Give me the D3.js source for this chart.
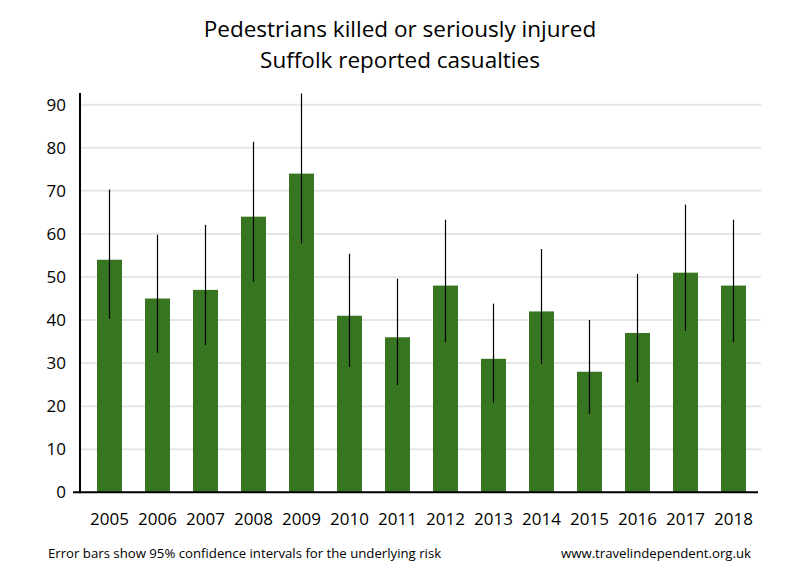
<!DOCTYPE html>
<html>
<head>
<meta charset="utf-8">
<script src="https://cdn.jsdelivr.net/npm/d3@7"></script>
<style>
  html, body { margin: 0; padding: 0; background: #fff; }
  svg { display: block; font-family: "Open Sans", sans-serif; }
</style>
</head>
<body>
<svg id="chart" width="800" height="580"></svg>
<script>
// ---- data ----
const years = ["2005","2006","2007","2008","2009","2010","2011","2012","2013","2014","2015","2016","2017","2018"];
const casualties = [54, 45, 47, 64, 74, 41, 36, 48, 31, 42, 28, 37, 51, 48];
const ciLower = [40.3, 32.4, 34.2, 48.9, 57.8, 29.1, 24.9, 34.9, 20.8, 29.8, 18.2, 25.6, 37.5, 34.9];
const ciUpper = [70.3, 59.8, 62.1, 81.4, 92.6, 55.4, 49.6, 63.3, 43.8, 56.5, 40.0, 50.7, 66.8, 63.3];
const yTicks = [0, 10, 20, 30, 40, 50, 60, 70, 80, 90];
const titleLines = ["Pedestrians killed or seriously injured", "Suffolk reported casualties"];
const footLeft = "Error bars show 95% confidence intervals for the underlying risk";
const footRight = "www.travelindependent.org.uk";

const svg = d3.select("#chart");
const plotLeft = 80, plotRight = 761, yTopVal = 92.7;

const x = d3.scaleBand().domain(years).range([85.5, 757.5])
  .paddingInner(0.479).paddingOuter(0.2395);
const y = d3.scaleLinear().domain([0, 90]).range([492.3, 104.7]);

// gridlines
svg.append("g").selectAll("line").data(yTicks.filter(d => d > 0)).join("line")
  .attr("x1", plotLeft).attr("x2", plotRight)
  .attr("y1", d => y(d)).attr("y2", d => y(d))
  .attr("stroke", "#e6e6e6").attr("stroke-width", 2);

// bars
svg.append("g").selectAll("rect").data(years).join("rect")
  .attr("x", d => x(d))
  .attr("width", x.bandwidth())
  .attr("y", (d, i) => y(casualties[i]))
  .attr("height", (d, i) => y(0) - y(casualties[i]))
  .attr("fill", "#377521");

// error bars
svg.append("g").selectAll("line").data(years).join("line")
  .attr("x1", d => x(d) + x.bandwidth() / 2)
  .attr("x2", d => x(d) + x.bandwidth() / 2)
  .attr("y1", (d, i) => y(ciLower[i]))
  .attr("y2", (d, i) => y(ciUpper[i]))
  .attr("stroke", "#000").attr("stroke-width", 1.2);

// y axis
const yAxis = d3.axisLeft(y).tickValues(yTicks).tickSize(0).tickPadding(14);
const gy = svg.append("g").attr("transform", `translate(${plotLeft},0)`).call(yAxis);
gy.select(".domain").remove();
gy.selectAll("text").attr("font-size", 17).attr("fill", "#000")
  .attr("font-family", "Open Sans");
svg.append("line").attr("x1", plotLeft).attr("x2", plotLeft)
  .attr("y1", y(yTopVal)).attr("y2", y(0) + 1)
  .attr("stroke", "#000").attr("stroke-width", 2);

// x axis
const xAxis = d3.axisBottom(x).tickSize(0).tickPadding(20.5);
const gx = svg.append("g").attr("transform", `translate(0,${y(0)})`).call(xAxis);
gx.select(".domain").remove();
gx.selectAll("text").attr("font-size", 17).attr("fill", "#000")
  .attr("font-family", "Open Sans");
svg.append("line").attr("x1", 73).attr("x2", 758)
  .attr("y1", y(0)).attr("y2", y(0))
  .attr("stroke", "#000").attr("stroke-width", 2);

// title
svg.append("text").attr("x", 400).attr("y", 37).attr("text-anchor", "middle")
  .attr("font-size", 22.5).text(titleLines[0]);
svg.append("text").attr("x", 400).attr("y", 68).attr("text-anchor", "middle")
  .attr("font-size", 22.5).text(titleLines[1]);

// footer
svg.append("text").attr("x", 48).attr("y", 558).attr("font-size", 13.2).text(footLeft);
svg.append("text").attr("x", 751).attr("y", 558).attr("text-anchor", "end")
  .attr("font-size", 13.2).text(footRight);
</script>
</body>
</html>
